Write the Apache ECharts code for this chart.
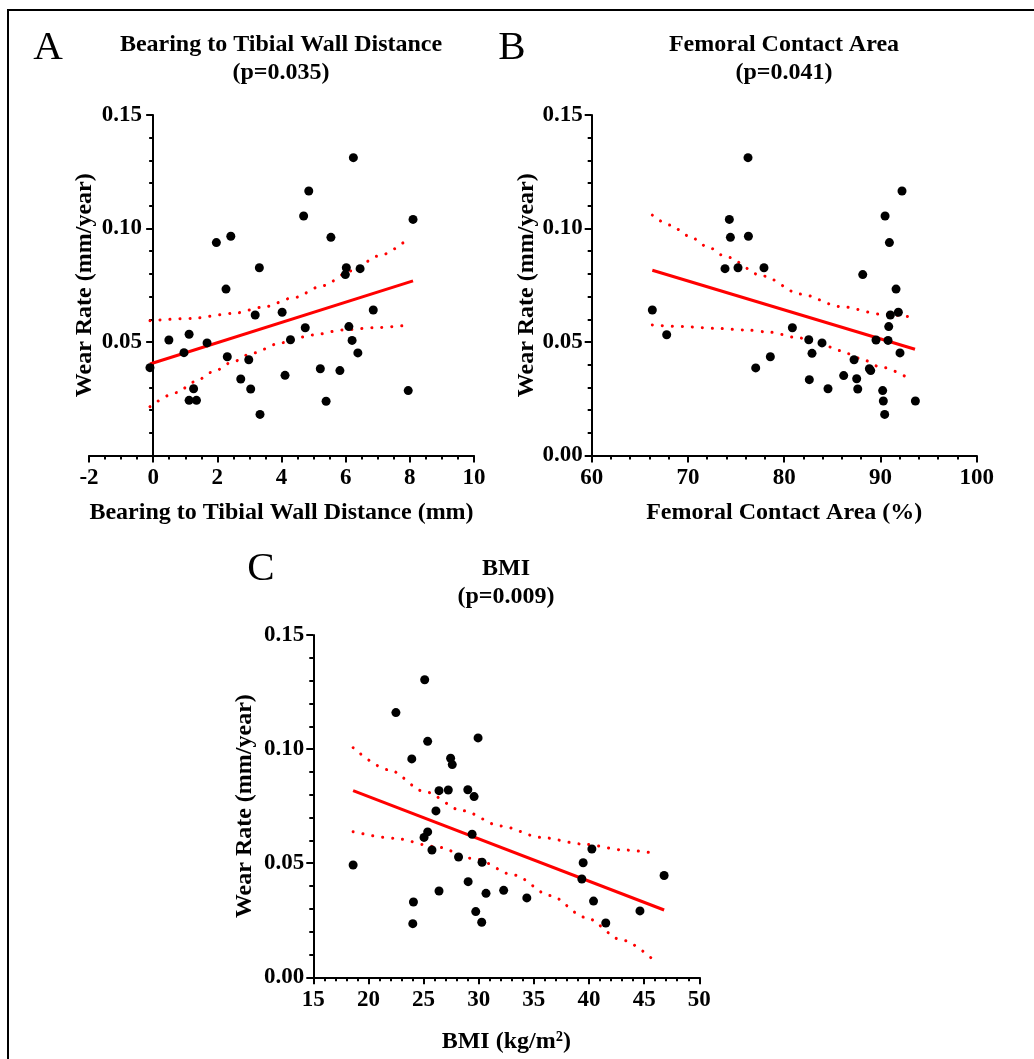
<!DOCTYPE html>
<html>
<head>
<meta charset="utf-8">
<script src="https://cdn.jsdelivr.net/npm/echarts@6/dist/echarts.min.js"></script>
<style>
  html, body { margin: 0; padding: 0; background: #fff; }
  #chart { width: 1034px; height: 1059px; }
</style>
</head>
<body>
<div id="chart"></div>
<script>
var serif = '"Liberation Serif", "Times New Roman", serif';

// Panel A: bearing to tibial wall distance (mm) vs wear rate (mm/year)
var distanceX = [-0.10, 0.49, 0.96, 1.12, 1.26, 1.12, 1.35, 1.68, 1.97, 2.42, 2.27, 2.31, 2.73, 2.98, 3.04, 3.18, 3.31, 3.33, 4.02,
	4.11, 4.28, 4.69, 4.85, 4.74, 5.21, 5.39, 5.54, 5.82, 6.02, 5.99, 6.10, 6.20, 6.24, 6.38, 6.45, 6.86, 7.95, 8.10];
var distanceWear = [0.0387, 0.0509, 0.0453, 0.0534, 0.0294, 0.0243, 0.0243, 0.0496, 0.0938, 0.0966, 0.0733, 0.0435, 0.0337, 0.0422, 0.0293, 0.0619, 0.0827, 0.0181, 0.0631,
	0.0353, 0.0510, 0.1055, 0.1165, 0.0563, 0.0382, 0.0239, 0.0961, 0.0374, 0.0827, 0.0797, 0.0568, 0.0507, 0.1312, 0.0452, 0.0823, 0.0641, 0.0286, 0.1040];
var distanceFit = [[-0.10, 0.0403], [8.10, 0.0769]];
var distanceUpper = [[-0.10, 0.0594], [1.19, 0.0604], [2.49, 0.0626], [3.42, 0.0653], [4.38, 0.0695], [5.28, 0.0748], [6.17, 0.0813], [7.03, 0.0879], [7.88, 0.0947]];
var distanceLower = [[-0.10, 0.0215], [0.73, 0.0277], [1.30, 0.0325], [1.87, 0.0369], [2.49, 0.0413], [3.06, 0.0450], [4.01, 0.0497], [4.97, 0.0531], [5.91, 0.0553], [6.89, 0.0563], [7.88, 0.0573]];

// Panel B: femoral contact area (%) vs wear rate
var contactX = [66.30, 67.79, 73.85, 74.30, 74.41, 75.20, 76.24, 76.28, 77.04, 77.90, 78.56, 80.85, 82.55, 82.61, 82.89, 83.93, 84.55, 86.18, 87.26,
	87.53, 87.64, 88.16, 88.85, 88.99, 89.54, 90.23, 90.30, 90.44, 90.48, 90.79, 90.86, 90.93, 91.03, 91.62, 91.86, 92.03, 92.24, 93.63];
var contactWear = [0.0641, 0.0532, 0.0823, 0.1040, 0.0961, 0.0827, 0.1312, 0.0966, 0.0386, 0.0827, 0.0435, 0.0563, 0.0510, 0.0334, 0.0450, 0.0496, 0.0294, 0.0352, 0.0422,
	0.0338, 0.0293, 0.0797, 0.0382, 0.0374, 0.0509, 0.0286, 0.0240, 0.0181, 0.1055, 0.0507, 0.0568, 0.0938, 0.0619, 0.0733, 0.0631, 0.0452, 0.1165, 0.0240];
var contactFit = [[66.30, 0.0816], [93.59, 0.0468]];
var contactUpper = [[66.30, 0.1059], [68.14, 0.1015], [70.11, 0.0967], [72.02, 0.0920], [73.92, 0.0876], [77.77, 0.0791], [81.71, 0.0711], [85.87, 0.0656], [90.23, 0.0622], [93.52, 0.0609]];
var contactLower = [[66.30, 0.0575], [69.52, 0.0568], [72.81, 0.0560], [76.10, 0.0553], [78.53, 0.0543], [81.30, 0.0520], [83.72, 0.0494], [85.80, 0.0462], [87.88, 0.0428], [89.96, 0.0391], [92.73, 0.0345]];

// Panel C: BMI vs wear rate
var bmiX = [18.61, 22.49, 23.93, 24.08, 24.02, 25.10, 25.04, 25.37, 25.37, 25.76, 26.12, 26.40, 26.40, 27.24, 27.45, 27.60, 28.17, 29.01,
	29.04, 29.40, 29.58, 29.73, 29.94, 30.30, 30.27, 30.66, 32.26, 34.36, 39.35, 39.47, 40.26, 40.41, 41.52, 44.62, 46.81];
var bmiWear = [0.0492, 0.1160, 0.0957, 0.0330, 0.0235, 0.1304, 0.0613, 0.0637, 0.1034, 0.0558, 0.0729, 0.0818, 0.0378, 0.0821, 0.0960, 0.0932, 0.0527, 0.0822,
	0.0419, 0.0627, 0.0792, 0.0288, 0.1049, 0.0504, 0.0241, 0.0368, 0.0381, 0.0348, 0.0431, 0.0502, 0.0562, 0.0334, 0.0238, 0.0291, 0.0446];
var bmiFit = [[18.61, 0.0818], [46.81, 0.0295]];
var bmiUpper = [[18.61, 0.1006], [21.86, 0.0909], [25.07, 0.0814], [28.53, 0.0730], [31.99, 0.0663], [35.66, 0.0613], [39.41, 0.0584], [43.17, 0.0558], [46.03, 0.0543]];
var bmiLower = [[18.61, 0.0638], [22.37, 0.0609], [26.03, 0.0573], [29.67, 0.0519], [33.19, 0.0448], [36.50, 0.0358], [39.65, 0.0263], [42.96, 0.0164], [46.12, 0.0064]];

var yTicks = [0, 0.05, 0.10, 0.15];

function pairs(xs, ys) {
	var out = [];
	for (var i = 0; i < xs.length; i++) {
		out.push([xs[i], ys[i]]);
	}
	return out;
}

var tickFont = { fontFamily: serif, fontWeight: 'bold', fontSize: 23, color: '#000' };
var nameFont = { fontFamily: serif, fontWeight: 'bold', fontSize: 24, color: '#000' };
var axisLineStyle = { color: '#000', width: 2 };

function makeX(idx, min, max, interval, minorSplit, name, nameGap) {
	return {
		type: 'value', gridIndex: idx, min: min, max: max, interval: interval,
		name: name, nameLocation: 'middle', nameGap: nameGap,
		nameTextStyle: nameFont,
		axisLine: { show: true, onZero: false, lineStyle: axisLineStyle },
		axisTick: { show: true, length: 7, lineStyle: axisLineStyle },
		minorTick: { show: true, splitNumber: minorSplit, length: 4, lineStyle: axisLineStyle },
		axisLabel: Object.assign({ margin: 11 }, tickFont),
		splitLine: { show: false }
	};
}

// labels and name of panel A sit next to the axis at x=0, so margins are given from the grid edge
function makeY(idx, onZero, hideZero, labelMargin, nameGap) {
	return {
		type: 'value', gridIndex: idx, min: yTicks[0], max: yTicks[yTicks.length - 1], interval: 0.05,
		name: 'Wear Rate (mm/year)', nameLocation: 'middle', nameGap: nameGap,
		nameTextStyle: nameFont,
		axisLine: { show: true, onZero: onZero, lineStyle: axisLineStyle },
		axisTick: { show: true, length: 7, lineStyle: axisLineStyle },
		minorTick: { show: true, splitNumber: 5, length: 4, lineStyle: axisLineStyle },
		axisLabel: Object.assign({
			margin: labelMargin,
			formatter: function(v) {
				if (hideZero && v === 0) return '';
				return v.toFixed(2);
			}
		}, tickFont),
		splitLine: { show: false }
	};
}

function panelSeries(idx, pts, fit, upper, lower) {
	var dotted = { color: '#ff0000', width: 3, type: [0.1, 9.9], cap: 'round' };
	return [
		{ type: 'line', xAxisIndex: idx, yAxisIndex: idx, data: upper, showSymbol: false, symbol: 'none',
			smooth: 0.3, smoothMonotone: 'x', lineStyle: dotted, z: 2, silent: true },
		{ type: 'line', xAxisIndex: idx, yAxisIndex: idx, data: lower, showSymbol: false, symbol: 'none',
			smooth: 0.3, smoothMonotone: 'x', lineStyle: dotted, z: 2, silent: true },
		{ type: 'line', xAxisIndex: idx, yAxisIndex: idx, data: fit, showSymbol: false, symbol: 'none',
			lineStyle: { color: '#ff0000', width: 3 }, z: 3, silent: true },
		{ type: 'scatter', xAxisIndex: idx, yAxisIndex: idx, data: pts, symbol: 'circle', symbolSize: 9,
			itemStyle: { color: '#000', opacity: 1 }, z: 4 }
	];
}

function titleText(x, y, lines) {
	return [
		{ type: 'text', x: x, y: y, style: { text: lines[0], fontFamily: serif, fontWeight: 'bold', fontSize: 24, fill: '#000', align: 'center', verticalAlign: 'middle' } },
		{ type: 'text', x: x, y: y + 28, style: { text: lines[1], fontFamily: serif, fontWeight: 'bold', fontSize: 24, fill: '#000', align: 'center', verticalAlign: 'middle' } }
	];
}

function letter(x, y, t) {
	return { type: 'text', x: x, y: y, style: { text: t, fontFamily: serif, fontSize: 41, fill: '#000', align: 'center', verticalAlign: 'middle' } };
}

var chart = echarts.init(document.getElementById('chart'));

var option = {
	backgroundColor: '#fff',
	animation: false,
	grid: [
		{ left: 89, top: 115, width: 385, height: 340.5 },
		{ left: 591.7, top: 115, width: 385, height: 340.5 },
		{ left: 313.3, top: 635, width: 386, height: 342.3 }
	],
	xAxis: [
		makeX(0, -2, 10, 2, 4, 'Bearing to Tibial Wall Distance (mm)', 45),
		makeX(1, 60, 100, 10, 5, 'Femoral Contact Area (%)', 45),
		makeX(2, 15, 50, 5, 5, 'BMI (kg/m²)', 52)
	],
	yAxis: [
		makeY(0, true, true, -53, -8),
		makeY(1, false, false, 9, 53),
		makeY(2, false, false, 9, 57)
	],
	series: []
		.concat(panelSeries(0, pairs(distanceX, distanceWear), distanceFit, distanceUpper, distanceLower))
		.concat(panelSeries(1, pairs(contactX, contactWear), contactFit, contactUpper, contactLower))
		.concat(panelSeries(2, pairs(bmiX, bmiWear), bmiFit, bmiUpper, bmiLower)),
	graphic: [
		{ type: 'rect', shape: { x: 8, y: 10, width: 1200, height: 1200 }, style: { fill: 'none', stroke: '#000', lineWidth: 2 }, silent: true },
		letter(48, 48, 'A'),
		letter(512, 48, 'B'),
		letter(261, 569, 'C')
	]
		.concat(titleText(281, 45, ['Bearing to Tibial Wall Distance', '(p=0.035)']))
		.concat(titleText(784, 45, ['Femoral Contact Area', '(p=0.041)']))
		.concat(titleText(506, 569, ['BMI', '(p=0.009)']))
};

chart.setOption(option);
</script>
</body>
</html>
